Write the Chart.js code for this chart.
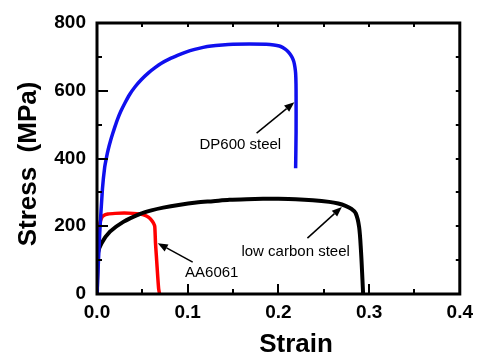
<!DOCTYPE html>
<html>
<head>
<meta charset="utf-8">
<script src="https://cdn.jsdelivr.net/npm/chart.js@4.4.1/dist/chart.umd.min.js"></script>
<style>
  html, body { margin: 0; padding: 0; background: #fff; }
  #wrap { width: 480px; height: 358px; }
</style>
</head>
<body>
<div id="wrap"><canvas id="stress-strain"></canvas></div>
<script>
"use strict";

// tick labels
var xTicks = [0.0, 0.1, 0.2, 0.3, 0.4];
var yTicks = [0, 200, 400, 600, 800];

// DP600 steel (blue)
var dpStrain = [0, 0.003, 0.006, 0.0085, 0.0106, 0.0125, 0.015, 0.0175, 0.0198, 0.0225, 0.026, 0.0308, 0.036, 0.0418, 0.049, 0.0564, 0.064, 0.071, 0.08, 0.0894, 0.098, 0.1077, 0.117, 0.126, 0.138, 0.15, 0.168, 0.1865, 0.195, 0.201, 0.2045, 0.2075, 0.2105, 0.213, 0.2152, 0.217, 0.2182, 0.219, 0.2194, 0.2195, 0.2195, 0.219];
var dpStress = [0, 180, 310, 375, 405, 428, 453, 475, 494, 515, 538, 564, 589, 611, 633, 652, 668, 681, 694, 705, 714, 722, 728, 732, 735, 737, 738, 737, 735, 732, 728, 723, 716, 708, 698, 686, 670, 651, 620, 582, 480, 371];

// low carbon steel (black)
var lcStrain = [0, 0.001, 0.005, 0.0143, 0.029, 0.047, 0.06, 0.073, 0.09, 0.1095, 0.128, 0.146, 0.165, 0.183, 0.2, 0.219, 0.238, 0.256, 0.266, 0.274, 0.2805, 0.2853, 0.289, 0.291, 0.2927, 0.2934];
var lcStress = [0, 120, 150, 184, 213, 236, 247, 255, 263, 270, 274, 278, 280, 281, 281, 280, 277, 272, 267, 260, 251, 238, 198, 130, 41, 0];

// AA6061 (red)
var aaStrain = [0, 0.001, 0.002, 0.0033, 0.005, 0.007, 0.012, 0.02, 0.03, 0.04, 0.047, 0.053, 0.057, 0.06, 0.0625, 0.0637, 0.0645, 0.0655, 0.067, 0.068, 0.069];
var aaStress = [0, 120, 185, 209, 224, 231, 236, 238, 239, 238, 236, 232, 226, 218, 208, 199, 150, 110, 50, 15, 0];

// arrow annotations: text anchor and arrow tail/head in data units
var notes = [
    { text: "DP600 steel", tx: 0.158, ty: 440, x1: 0.176, y1: 475, x2: 0.2176, y2: 566 },
    { text: "low carbon steel", tx: 0.219, ty: 124, x1: 0.232, y1: 165, x2: 0.270, y2: 257 },
    { text: "AA6061", tx: 0.1265, ty: 62, x1: 0.1055, y1: 94, x2: 0.067, y2: 150 }
];

function toPoints(xs, ys) {
    return xs.map(function (x, i) { return { x: x, y: ys[i] }; });
}

var framePlugin = {
    id: "frame",
    afterDatasetsDraw: function (chart) {
        var ctx = chart.ctx;
        var a = chart.chartArea;
        var sx = chart.scales.x, sy = chart.scales.y;
        ctx.save();

        // ticks (inward)
        ctx.strokeStyle = "#000";
        ctx.lineWidth = 2;
        ctx.beginPath();
        for (var v = 0.05; v < 0.4; v += 0.05) {
            var px = Math.round(sx.getPixelForValue(v));
            var major = Math.abs(v * 10 - Math.round(v * 10)) < 1e-6;
            ctx.moveTo(px, a.bottom);
            ctx.lineTo(px, a.bottom - (major ? 10 : 5));
            ctx.moveTo(px, a.top);
            ctx.lineTo(px, a.top + 4);
        }
        for (var s = 100; s < 800; s += 100) {
            var py = Math.round(sy.getPixelForValue(s));
            var maj = s % 200 === 0;
            ctx.moveTo(a.left, py);
            ctx.lineTo(a.left + (maj ? 11 : 5), py);
            ctx.moveTo(a.right, py);
            ctx.lineTo(a.right - 4, py);
        }
        ctx.stroke();

        // frame
        ctx.lineWidth = 3;
        ctx.strokeRect(a.left, a.top, a.right - a.left, a.bottom - a.top);

        // annotations
        ctx.fillStyle = "#000";
        ctx.font = "15px 'Liberation Sans', Arial, sans-serif";
        ctx.textAlign = "center";
        ctx.textBaseline = "middle";
        notes.forEach(function (n) {
            ctx.fillText(n.text, sx.getPixelForValue(n.tx), sy.getPixelForValue(n.ty));
            var x1 = sx.getPixelForValue(n.x1), y1 = sy.getPixelForValue(n.y1);
            var x2 = sx.getPixelForValue(n.x2), y2 = sy.getPixelForValue(n.y2);
            var ang = Math.atan2(y2 - y1, x2 - x1);
            var hl = 10, hw = 4;
            var bx = x2 - hl * Math.cos(ang), by = y2 - hl * Math.sin(ang);
            ctx.lineWidth = 1.5;
            ctx.beginPath();
            ctx.moveTo(x1, y1);
            ctx.lineTo(bx, by);
            ctx.stroke();
            ctx.beginPath();
            ctx.moveTo(x2, y2);
            ctx.lineTo(bx + hw * Math.sin(ang), by - hw * Math.cos(ang));
            ctx.lineTo(bx - hw * Math.sin(ang), by + hw * Math.cos(ang));
            ctx.closePath();
            ctx.fill();
        });

        // axis titles
        ctx.font = "bold 26px 'Liberation Sans', Arial, sans-serif";
        ctx.fillText("Strain", 296, 345);
        ctx.translate(29, 164);
        ctx.rotate(-Math.PI / 2);
        ctx.fillText("Stress  (MPa)", 0, 0);
        ctx.restore();
    }
};

var tickFont = { family: "'Liberation Sans', Arial, sans-serif", size: 19, weight: "bold" };

var ctx1 = document.getElementById("stress-strain").getContext("2d");
var myChart1 = new Chart(ctx1, {
    type: "scatter",
    data: {
        datasets: [{
                label: "DP600 steel",
                data: toPoints(dpStrain, dpStress),
                borderColor: "#1010ee",
                borderWidth: 3.5,
                showLine: true,
                pointRadius: 0,
                tension: 0.2
            },
            {
                label: "low carbon steel",
                data: toPoints(lcStrain, lcStress),
                borderColor: "#000",
                borderWidth: 4,
                showLine: true,
                pointRadius: 0,
                tension: 0.3
            },
            {
                label: "AA6061",
                data: toPoints(aaStrain, aaStress),
                borderColor: "#ff0000",
                borderWidth: 3.5,
                showLine: true,
                pointRadius: 0,
                tension: 0.2
            }
        ]
    },
    options: {
        responsive: true,
        maintainAspectRatio: false,
        animation: false,
        layout: { padding: { left: 0, right: 19, top: 23, bottom: 0 } },
        plugins: {
            legend: { display: false },
            tooltip: { enabled: false }
        },
        scales: {
            x: {
                type: "linear",
                min: 0,
                max: 0.4,
                afterBuildTicks: function (scale) {
                    scale.ticks = xTicks.map(function (v) { return { value: v }; });
                },
                afterFit: function (scale) { scale.height = 64; },
                grid: { display: false, drawTicks: false },
                border: { display: false },
                ticks: {
                    color: "#000",
                    font: tickFont,
                    padding: 7,
                    maxRotation: 0,
                    callback: function (v) { return Number(v).toFixed(1); }
                }
            },
            y: {
                type: "linear",
                min: 0,
                max: 800,
                afterBuildTicks: function (scale) {
                    scale.ticks = yTicks.map(function (v) { return { value: v }; });
                },
                afterFit: function (scale) { scale.width = 97; },
                grid: { display: false, drawTicks: false },
                border: { display: false },
                ticks: {
                    color: "#000",
                    font: tickFont,
                    padding: 11
                }
            }
        }
    },
    plugins: [framePlugin]
});
</script>
</body>
</html>
